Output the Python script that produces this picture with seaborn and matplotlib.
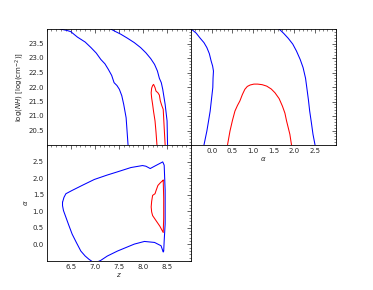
import numpy as np
import pandas as pd
import matplotlib
matplotlib.use("Agg")
import matplotlib.pyplot as plt
from matplotlib.ticker import MultipleLocator
import seaborn as sns

# ---- data ----
# Top-left: z vs log(NH)
zn_blue_left_z = [6.28, 6.42, 6.50, 6.64, 6.80, 6.92, 7.03, 7.125, 7.21, 7.28, 7.35, 7.40, 7.46, 7.51, 7.56, 7.60, 7.65, 7.69]
zn_blue_left_n = [24.0, 23.95, 23.91, 23.72, 23.55, 23.36, 23.17, 22.95, 22.80, 22.61, 22.40, 22.15, 22.05, 21.92, 21.70, 21.40, 20.94, 20.0]
zn_blue_right_z = [7.33, 7.42, 7.54, 7.68, 7.82, 7.95, 8.06, 8.16, 8.24, 8.30, 8.34, 8.38, 8.41, 8.46, 8.50, 8.51]
zn_blue_right_n = [24.0, 23.92, 23.82, 23.68, 23.53, 23.36, 23.18, 22.98, 22.78, 22.55, 22.30, 22.15, 21.92, 21.40, 20.83, 20.0]
zn_red_z = [8.29, 8.27, 8.25, 8.22, 8.20, 8.18, 8.17, 8.18, 8.20, 8.22, 8.25, 8.27, 8.31, 8.34, 8.36, 8.39, 8.42, 8.44, 8.46]
zn_red_n = [20.0, 20.45, 20.83, 21.15, 21.40, 21.62, 21.80, 21.96, 22.05, 22.09, 21.98, 21.86, 21.80, 21.72, 21.52, 21.36, 21.23, 20.60, 20.0]

# Top-right: alpha vs log(NH)
an_blue_left_a = [-0.5, -0.38, -0.28, -0.19, -0.12, -0.06, -0.017, 0.02, 0.04, 0.03, 0.024, -0.01, -0.04, -0.08, -0.12, -0.19]
an_blue_left_n = [24.0, 23.86, 23.68, 23.53, 23.36, 23.15, 22.90, 22.72, 22.55, 22.30, 21.98, 21.55, 21.17, 20.82, 20.48, 20.0]
an_blue_right_a = [1.63, 1.74, 1.85, 1.96, 2.05, 2.14, 2.21, 2.27, 2.30, 2.34, 2.37, 2.41, 2.45, 2.50]
an_blue_right_n = [24.0, 23.85, 23.68, 23.48, 23.24, 22.95, 22.67, 22.30, 21.98, 21.55, 21.17, 20.78, 20.37, 20.0]
an_red_a = [0.38, 0.44, 0.50, 0.56, 0.62, 0.68, 0.74, 0.80, 0.86, 0.93, 1.02, 1.11, 1.22, 1.33, 1.44, 1.53, 1.63, 1.71, 1.77, 1.81, 1.89, 1.93]
an_red_n = [20.0, 20.48, 20.85, 21.17, 21.36, 21.52, 21.74, 21.92, 22.02, 22.07, 22.10, 22.10, 22.08, 22.03, 21.93, 21.80, 21.60, 21.34, 21.10, 20.83, 20.37, 20.0]

# Bottom-left: z vs alpha
za_blue_z = [6.33, 6.36, 6.40, 6.53, 6.75, 6.99, 7.25, 7.47, 7.75, 7.99, 8.06, 8.15, 8.24, 8.41, 8.44,
             8.46, 8.46, 8.44, 8.43, 8.42, 8.375, 8.24, 8.03, 7.82, 7.47, 7.26, 7.125,
             7.05, 6.95, 6.88, 6.80, 6.71, 6.62, 6.53, 6.46, 6.40, 6.35, 6.33, 6.33]
za_blue_a = [1.27, 1.42, 1.53, 1.63, 1.79, 1.96, 2.09, 2.19, 2.32, 2.38, 2.36, 2.29, 2.36, 2.49, 2.39,
             1.63, 0.62, 0.11, -0.20, -0.23, -0.04, 0.06, 0.09, 0.01, -0.20, -0.35, -0.48,
             -0.53, -0.52, -0.45, -0.35, -0.20, 0.05, 0.31, 0.58, 0.82, 1.02, 1.17, 1.27]
za_red_z = [8.42, 8.36, 8.31, 8.27, 8.25, 8.20, 8.18, 8.17, 8.18, 8.20, 8.27, 8.35, 8.42, 8.43, 8.43, 8.42]
za_red_a = [1.94, 1.86, 1.78, 1.62, 1.53, 1.48, 1.30, 1.13, 0.98, 0.87, 0.72, 0.55, 0.36, 0.80, 1.40, 1.94]

z_ticks = [6.5, 7.0, 7.5, 8.0, 8.5]
n_ticks = [20.5, 21.0, 21.5, 22.0, 22.5, 23.0, 23.5]
a_ticks = [0.0, 0.5, 1.0, 1.5, 2.0, 2.5]

sns.set_style("white")
plt.rcParams.update({
    "xtick.direction": "in", "ytick.direction": "in",
    "xtick.top": True, "ytick.right": True,
    "xtick.major.size": 3, "ytick.major.size": 3,
    "xtick.minor.size": 1.5, "ytick.minor.size": 1.5,
    "xtick.major.width": 0.5, "ytick.major.width": 0.5,
    "xtick.minor.width": 0.4, "ytick.minor.width": 0.4,
    "xtick.labelsize": 5, "ytick.labelsize": 5,
    "xtick.major.pad": 2, "ytick.major.pad": 2,
    "axes.edgecolor": "black", "axes.linewidth": 0.6,
    "font.family": ["DejaVu Sans"],
    "mathtext.fontset": "dejavusans",
})

fig, axes = plt.subplots(2, 2, figsize=(3.73, 2.90), dpi=100)
fig.subplots_adjust(left=0.125, right=0.9, top=0.9, bottom=0.1, wspace=0, hspace=0)
ax_zn, ax_an = axes[0]
ax_za, ax_empty = axes[1]
ax_empty.axis("off")

def draw(ax, x, y, color):
    df = pd.DataFrame({"x": x, "y": y})
    sns.lineplot(data=df, x="x", y="y", ax=ax, sort=False, estimator=None,
                 color=color, linewidth=0.75)

draw(ax_zn, zn_blue_left_z, zn_blue_left_n, "blue")
draw(ax_zn, zn_blue_right_z, zn_blue_right_n, "blue")
draw(ax_zn, zn_red_z, zn_red_n, "red")

draw(ax_an, an_blue_left_a, an_blue_left_n, "blue")
draw(ax_an, an_blue_right_a, an_blue_right_n, "blue")
draw(ax_an, an_red_a, an_red_n, "red")

draw(ax_za, za_blue_z, za_blue_a, "blue")
draw(ax_za, za_red_z, za_red_a, "red")

ax_zn.set_xlim(6.0, 9.0); ax_zn.set_ylim(20.0, 24.0)
ax_an.set_xlim(-0.5, 3.0); ax_an.set_ylim(20.0, 24.0)
ax_za.set_xlim(6.0, 9.0); ax_za.set_ylim(-0.5, 3.0)

for ax in (ax_zn, ax_an, ax_za):
    ax.xaxis.set_minor_locator(MultipleLocator(0.1))
    ax.yaxis.set_minor_locator(MultipleLocator(0.1))
    ax.tick_params(which="both", top=True, right=True, direction="in")
    ax.set_xlabel(""); ax.set_ylabel("")

ax_zn.set_xticks(z_ticks); ax_zn.set_xticklabels([])
ax_zn.set_yticks(n_ticks)
ax_zn.set_ylabel(r"$\log(NH)$ $[\log({\rm cm}^{-2})]$", fontsize=5, labelpad=1.5)

ax_an.set_xticks(a_ticks)
ax_an.set_yticks(n_ticks); ax_an.set_yticklabels([])
ax_an.set_xlabel(r"$\alpha$", fontsize=5, labelpad=1)

ax_za.set_xticks(z_ticks)
ax_za.set_yticks(a_ticks)
ax_za.set_xlabel(r"$z$", fontsize=5, labelpad=1)
ax_za.set_ylabel(r"$\alpha$", fontsize=5, labelpad=2)

fig.savefig("out.png", dpi=100)
